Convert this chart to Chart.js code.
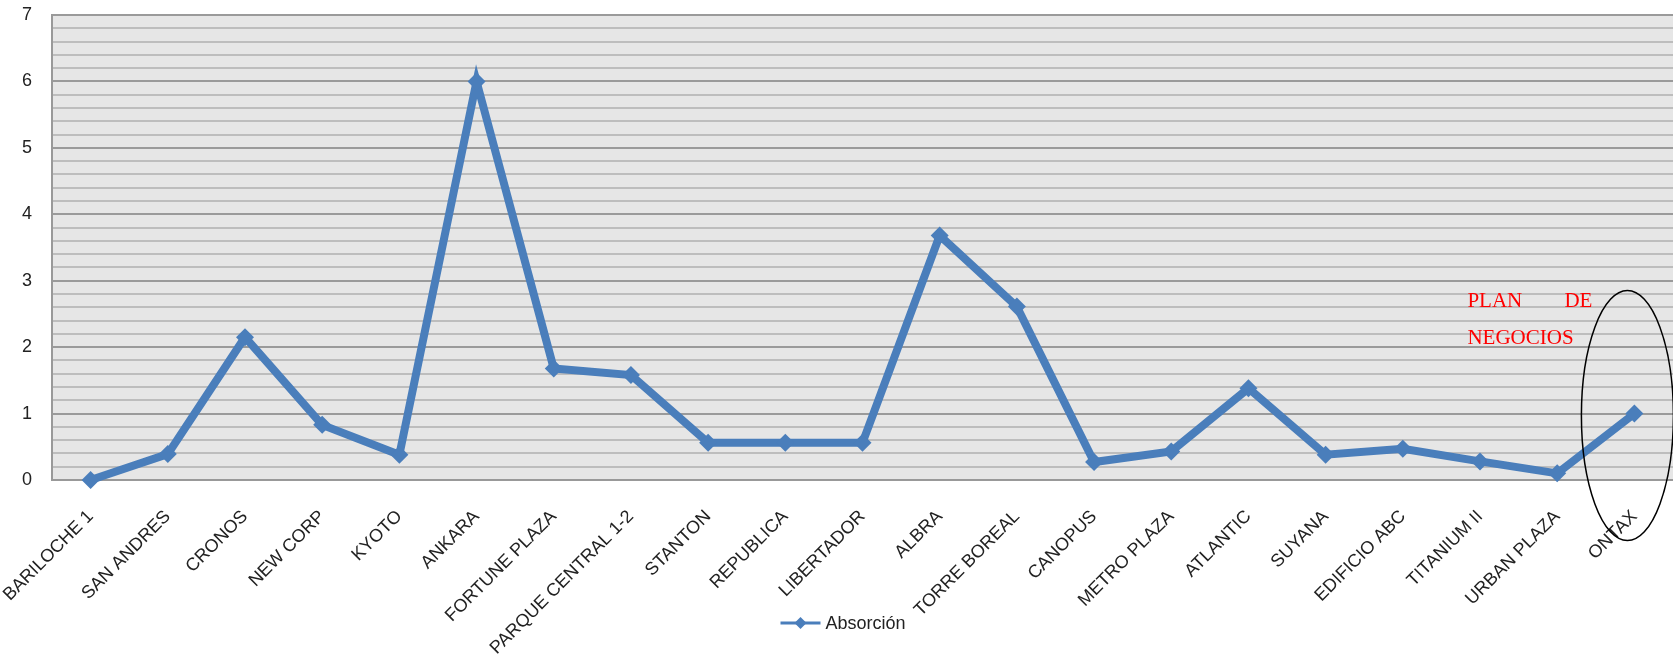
<!DOCTYPE html>
<html lang="es">
<head>
    <meta charset="UTF-8">
    <title>Absorción</title>
    <script src="https://cdn.jsdelivr.net/npm/chart.js"></script>
    <style>
        html, body { margin: 0; padding: 0; background: #fff; }
        #wrap { width: 1673px; height: 655px; position: relative; }
    </style>
</head>
<body>
    <div id="wrap"><canvas id="absChart"></canvas></div>

    <script>
        // Data
        const edificios = ['BARILOCHE 1', 'SAN ANDRES', 'CRONOS', 'NEW CORP', 'KYOTO', 'ANKARA',
            'FORTUNE PLAZA', 'PARQUE CENTRAL 1-2', 'STANTON', 'REPUBLICA', 'LIBERTADOR', 'ALBRA',
            'TORRE BOREAL', 'CANOPUS', 'METRO PLAZA', 'ATLANTIC', 'SUYANA', 'EDIFICIO ABC',
            'TITANIUM II', 'URBAN PLAZA', 'ONTAX'];
        const absorcion = [0, 0.39, 2.15, 0.83, 0.38, 6.0, 1.68, 1.58, 0.56, 0.56, 0.56, 3.68,
            2.61, 0.27, 0.43, 1.38, 0.38, 0.47, 0.28, 0.1, 1.0];
        const serieNombre = 'Absorción';
        const notaTexto = ['PLAN', 'DE', 'NEGOCIOS'];

        const azul = '#4a7ebb';

        // grey plot background
        const fondo = {
            id: 'fondo',
            beforeDraw(chart) {
                const { ctx, chartArea: a } = chart;
                ctx.save();
                ctx.fillStyle = '#e6e6e6';
                ctx.fillRect(a.left, a.top, a.right - a.left, a.bottom - a.top);
                ctx.restore();
            }
        };

        // legend below the labels + red note + ellipse around last point
        const extras = {
            id: 'extras',
            afterDraw(chart) {
                const { ctx, chartArea: a, scales } = chart;
                ctx.save();

                // legend
                const lx = (a.left + a.right) / 2 - 82;
                const ly = 623;
                ctx.strokeStyle = azul;
                ctx.lineWidth = 3;
                ctx.beginPath();
                ctx.moveTo(lx, ly);
                ctx.lineTo(lx + 40, ly);
                ctx.stroke();
                ctx.fillStyle = azul;
                ctx.beginPath();
                ctx.moveTo(lx + 20, ly - 6);
                ctx.lineTo(lx + 26, ly);
                ctx.lineTo(lx + 20, ly + 6);
                ctx.lineTo(lx + 14, ly);
                ctx.closePath();
                ctx.fill();
                ctx.fillStyle = '#222';
                ctx.font = '18px "Liberation Sans", Arial, sans-serif';
                ctx.textBaseline = 'middle';
                ctx.fillText(chart.data.datasets[0].label, lx + 45, ly + 1);

                // note
                const x = scales.x, y = scales.y;
                const last = x.getPixelForValue(edificios.length - 1);
                ctx.fillStyle = '#ff0000';
                ctx.font = '21px "Liberation Serif", "Times New Roman", serif';
                ctx.textBaseline = 'alphabetic';
                const nx = last - 167;
                ctx.fillText(notaTexto[0], nx, y.getPixelForValue(2.61));
                ctx.textAlign = 'right';
                ctx.fillText(notaTexto[1], last - 42, y.getPixelForValue(2.61));
                ctx.textAlign = 'left';
                ctx.fillText(notaTexto[2], nx, y.getPixelForValue(2.05));

                // ellipse
                ctx.strokeStyle = '#000';
                ctx.lineWidth = 1.5;
                ctx.beginPath();
                ctx.ellipse(last - 7, y.getPixelForValue(0.97), 46, 125, 0, 0, Math.PI * 2);
                ctx.stroke();
                ctx.restore();
            }
        };

        new Chart(document.getElementById('absChart'), {
            type: 'line',
            data: {
                labels: edificios,
                datasets: [{
                    label: serieNombre,
                    data: absorcion,
                    borderColor: azul,
                    backgroundColor: azul,
                    borderWidth: 8,
                    pointStyle: 'rectRot',
                    pointRadius: 9,
                    pointBorderWidth: 0,
                    pointBackgroundColor: azul,
                    tension: 0,
                    clip: false
                }]
            },
            options: {
                responsive: true,
                maintainAspectRatio: false,
                animation: false,
                layout: { autoPadding: false, padding: 0 },
                plugins: {
                    legend: { display: false },
                    tooltip: { enabled: false }
                },
                scales: {
                    x: {
                        offset: true,
                        grid: { display: false, drawTicks: false },
                        border: { color: '#999', width: 2 },
                        ticks: {
                            autoSkip: false,
                            minRotation: 45,
                            maxRotation: 45,
                            padding: 26,
                            color: '#222',
                            font: { family: '"Liberation Sans", Arial, sans-serif', size: 18 }
                        },
                        // fixed room for the slanted labels, like the original
                        afterFit: s => {
                            s.height = 175;
                            s.paddingLeft = 0;
                            s.paddingRight = 0;
                        }
                    },
                    y: {
                        min: 0,
                        max: 7,
                        grid: {
                            drawTicks: false,
                            color: c => Math.abs(c.tick.value - Math.round(c.tick.value)) < 1e-6 ? '#9a9a9a' : '#bdbdbd',
                            lineWidth: 2
                        },
                        border: { color: '#999', width: 2 },
                        ticks: {
                            stepSize: 0.2,
                            autoSkip: false,
                            maxTicksLimit: 100,
                            padding: 20,
                            color: '#222',
                            font: { family: '"Liberation Sans", Arial, sans-serif', size: 18 },
                            callback: v => Math.abs(v - Math.round(v)) < 1e-6 ? Math.round(v) : ''
                        },
                        afterFit: s => {
                            s.width = 52;
                            s.paddingTop = 15;
                            s.paddingBottom = 0;
                        }
                    }
                }
            },
            plugins: [fondo, extras]
        });
    </script>
</body>
</html>
